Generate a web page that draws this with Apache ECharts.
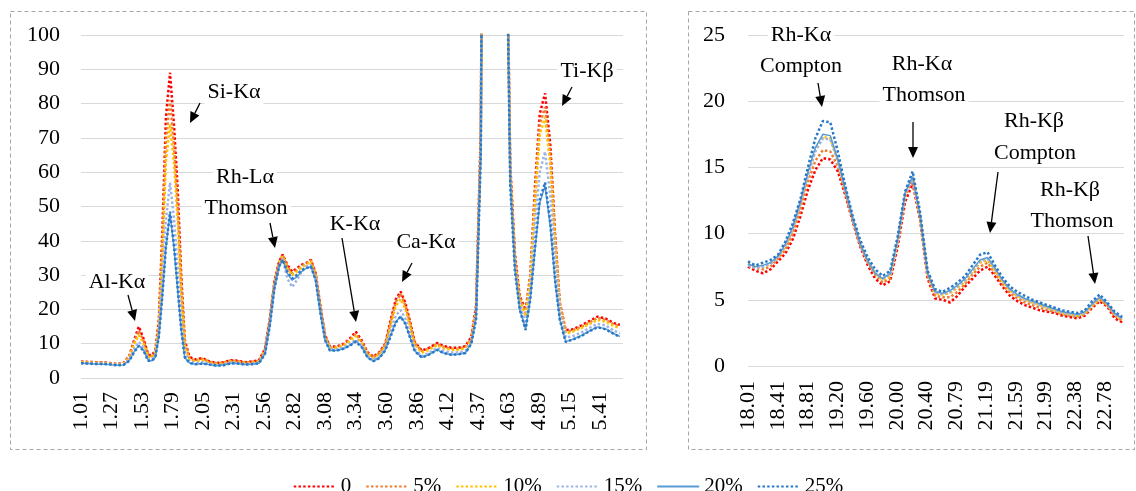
<!DOCTYPE html>
<html>
<head>
<meta charset="utf-8">
<script src="https://cdn.jsdelivr.net/npm/echarts@6/dist/echarts.min.js"></script>
<style>
  html, body { margin: 0; padding: 0; background: #fff; }
  #chart { width: 1136px; height: 491px; }
</style>
</head>
<body>
<div id="chart"></div>
<script>
// energy (keV) of the sampled points, left panel
const leftKeV = [
  1.01, 1.07, 1.13, 1.19, 1.25, 1.31, 1.37, 1.42, 1.46, 1.50,
  1.54, 1.58, 1.61, 1.64, 1.67, 1.70, 1.73, 1.765, 1.80, 1.83,
  1.86, 1.89, 1.93, 1.98, 2.04, 2.10, 2.16, 2.22, 2.28, 2.34,
  2.40, 2.46, 2.52, 2.57, 2.61, 2.65, 2.69, 2.72, 2.76, 2.80,
  2.84, 2.88, 2.92, 2.96, 3.00, 3.04, 3.08, 3.12, 3.18, 3.24,
  3.29, 3.34, 3.39, 3.44, 3.49, 3.54, 3.59, 3.64, 3.68, 3.72,
  3.76, 3.80, 3.84, 3.90, 3.96, 4.03, 4.09, 4.15, 4.21, 4.27,
  4.32, 4.36, 4.40, 4.44, 4.50, 4.56, 4.61, 4.63, 4.65, 4.69,
  4.73, 4.78, 4.82, 4.86, 4.90, 4.945, 4.99, 5.03, 5.07, 5.12,
  5.18, 5.25, 5.32, 5.39, 5.46, 5.53, 5.58
];
const leftTicks = ['1.01', '1.27', '1.53', '1.79', '2.05', '2.31', '2.56', '2.82', '3.08',
  '3.34', '3.60', '3.86', '4.12', '4.37', '4.63', '4.89', '5.15', '5.41'];

const left0 = [
  4.8, 4.7, 4.6, 4.6, 4.4, 4.1, 4.3, 6.5, 11.0, 15.0,
  11.5, 6.8, 6.6, 8, 17, 43, 76, 89, 73, 55,
  30, 11, 6.2, 5.4, 5.8, 4.8, 4.4, 4.6, 5.2, 5.0,
  4.6, 4.8, 5.2, 8.5, 17, 28, 34, 36, 33, 31,
  32, 33, 33.5, 34.5, 30.5, 21, 12.5, 9.2, 9.2, 10.0,
  11.5, 13.5, 11.0, 7.5, 6.2, 7.5, 10.0, 17.5, 23.0, 25.2,
  22, 16.5, 10.5, 8.0, 8.8, 10.2, 9.3, 8.8, 8.8, 9.3,
  12, 21, 72, 300, 600, 450, 165, 110, 62, 36,
  24, 19.8, 30, 56, 77, 83, 68, 42, 22, 14,
  14.2, 15.3, 16.6, 17.9, 17.3, 16.0, 15.5
];
const left5 = [
  4.7, 4.6, 4.5, 4.5, 4.3, 4.0, 4.2, 6.3, 10.5, 13.8,
  10.9, 6.5, 6.3, 7.5, 15.5, 39, 69, 81, 67, 50,
  27.5, 10.2, 5.7, 5.1, 5.6, 4.7, 4.3, 4.5, 5.1, 4.9,
  4.5, 4.7, 5.1, 8.3, 16.7, 27.8, 33.8, 35.8, 32.5, 30.5,
  31.5, 32.6, 33.3, 34.3, 30.2, 20.6, 12.3, 9.0, 9.0, 9.8,
  11.2, 12.8, 10.6, 7.3, 6.0, 7.3, 9.7, 16.8, 22.2, 24.5,
  21.3, 16, 10.2, 7.8, 8.5, 9.9, 9.0, 8.5, 8.5, 9.0,
  11.6, 20.2, 70, 298, 598, 448, 164, 109, 61, 35,
  23.5, 19, 29.3, 53.5, 74, 79, 65, 40.5, 21.5, 13.5,
  13.9, 14.9, 16.2, 17.5, 16.9, 15.6, 15.1
];
const left10 = [
  4.6, 4.5, 4.4, 4.4, 4.2, 3.9, 4.1, 6.0, 9.8, 12.5,
  10.2, 6.2, 6.0, 7.2, 14.5, 36, 63, 74, 62, 46,
  25, 9.5, 5.4, 4.9, 5.3, 4.5, 4.1, 4.3, 4.9, 4.7,
  4.4, 4.5, 4.9, 8.0, 16.3, 27.5, 33.5, 35.5, 32, 30,
  31, 32.2, 33, 34, 29.8, 20.2, 12, 8.8, 8.8, 9.5,
  10.8, 12.2, 10.2, 7.0, 5.8, 7.0, 9.3, 16, 21, 23.0,
  20.2, 15.2, 9.7, 7.4, 8.2, 9.6, 8.6, 8.2, 8.2, 8.7,
  11.2, 19.5, 69, 296, 595, 446, 163, 108, 60, 34,
  22.8, 18, 28.5, 51, 71, 76, 62, 39, 21, 13,
  13.5, 14.5, 15.7, 16.9, 16.4, 15.1, 14.6
];
const left15 = [
  4.4, 4.3, 4.2, 4.2, 4.1, 3.8, 3.9, 5.4, 8.4, 10.5,
  8.8, 5.5, 5.5, 6.5, 13, 29, 46, 57, 46, 32,
  17, 7.2, 4.8, 4.3, 4.6, 4.1, 3.8, 4.0, 4.6, 4.4,
  4.1, 4.2, 4.5, 7.4, 15.5, 26.5, 32.5, 34.8, 29, 26.5,
  28.5, 31, 32.5, 33, 29, 19.5, 11.5, 8.4, 8.3, 9.0,
  9.9, 11.2, 9.5, 6.4, 5.2, 6.3, 8.6, 14, 18.2, 19.8,
  17.4, 13, 8.4, 6.4, 7.3, 8.8, 7.8, 7.4, 7.5, 7.9,
  10.6, 18, 67, 294, 590, 444, 161, 106, 58, 32.5,
  21.5, 15.8, 26, 45, 60, 66, 53, 34, 19.5, 11.8,
  12.2, 13.2, 14.6, 15.8, 15.3, 13.8, 13.1
];
const left20 = [
  4.3, 4.2, 4.1, 4.0, 3.9, 3.7, 3.8, 5.1, 7.6, 9.5,
  8.1, 5.1, 5.0, 6, 12, 24, 38, 48, 37.5, 25.5,
  14, 6, 4.4, 4.0, 4.2, 3.9, 3.6, 3.8, 4.3, 4.2,
  3.9, 4.0, 4.3, 7.2, 15.5, 26.5, 32.5, 34.5, 30.5, 28.5,
  29.5, 31, 32, 32.5, 28.5, 19, 11, 8, 8.0, 8.6,
  9.5, 10.8, 9.1, 6.0, 4.9, 5.9, 8.1, 12.8, 16.4, 18.0,
  15.9, 11.9, 7.9, 6.0, 6.8, 8.2, 7.2, 6.8, 6.9, 7.3,
  10.2, 17.5, 66, 292, 585, 442, 160, 105, 57, 31.5,
  20, 14.2, 23, 37.5, 51, 56, 44, 28, 17, 10.6,
  11.3, 12.3, 13.7, 14.9, 14.3, 12.9, 12.1
];
const left25 = [
  4.3, 4.2, 4.1, 4.1, 4.0, 3.7, 3.8, 5.0, 7.5, 9.3,
  8.0, 5.0, 5.0, 6, 12, 24, 38, 48.5, 38, 26,
  14, 6, 4.4, 4.0, 4.2, 3.9, 3.6, 3.7, 4.3, 4.2,
  3.9, 4.0, 4.3, 7.0, 15, 26, 32.5, 34.5, 31, 29,
  30, 31.5, 32, 32.5, 28.5, 19, 11, 8, 8.0, 8.6,
  9.4, 10.6, 9.0, 6.0, 4.9, 5.8, 8.0, 12.5, 16.2, 17.9,
  15.8, 11.8, 7.8, 6.0, 6.8, 8.2, 7.2, 6.8, 6.9, 7.3,
  10, 17, 65, 290, 580, 440, 158, 104, 56, 31,
  20, 14, 23, 38, 52, 57, 45, 28.6, 17, 10.5,
  11.2, 12.2, 13.6, 14.8, 14.2, 12.8, 12.0
];

// energy (keV) of the sampled points, right panel
const rightKeV = [
  18.01, 18.11, 18.21, 18.31, 18.41, 18.51, 18.61, 18.71, 18.81, 18.91,
  19.01, 19.11, 19.21, 19.31, 19.41, 19.51, 19.61, 19.71, 19.81, 19.91,
  20.01, 20.11, 20.21, 20.31, 20.41, 20.51, 20.61, 20.71, 20.81, 20.91,
  21.01, 21.11, 21.21, 21.31, 21.41, 21.51, 21.61, 21.71, 21.81, 21.91,
  22.01, 22.11, 22.21, 22.31, 22.41, 22.51, 22.61, 22.71, 22.81, 22.91,
  23.01
];
const rightTicks = ['18.01', '18.41', '18.81', '19.20', '19.60', '20.00', '20.40',
  '20.79', '21.19', '21.59', '21.99', '22.38', '22.78'];

const right0 = [
  7.5, 7.2, 7.0, 7.3, 7.9, 8.5, 9.6, 11.3, 13.3, 14.8,
  15.7, 15.6, 14.7, 12.9, 10.9, 9.0, 7.6, 6.6, 6.1, 6.4,
  9.0, 12.4, 13.8, 11.0, 6.6, 5.1, 5.0, 4.8, 5.3, 6.0,
  6.6, 7.2, 7.5, 6.8, 6.0, 5.3, 4.9, 4.6, 4.4, 4.2,
  4.1, 4.0, 3.8, 3.7, 3.6, 3.8, 4.4, 4.9, 4.5, 3.6,
  3.3
];
const right5 = [
  7.6, 7.4, 7.3, 7.5, 8.1, 8.8, 10.0, 11.8, 13.9, 15.5,
  16.3, 16.2, 15.1, 13.1, 11.0, 9.1, 7.8, 6.9, 6.3, 6.6,
  9.3, 12.8, 14.1, 11.2, 6.8, 5.3, 5.2, 5.2, 5.6, 6.2,
  6.9, 7.5, 7.8, 7.0, 6.2, 5.5, 5.1, 4.8, 4.6, 4.4,
  4.2, 4.1, 3.9, 3.8, 3.7, 3.9, 4.5, 5.0, 4.6, 3.8,
  3.4
];
const right10 = [
  7.7, 7.5, 7.5, 7.7, 8.2, 9.0, 10.3, 12.2, 14.4, 16.3,
  17.3, 17.2, 15.6, 13.3, 11.1, 9.2, 7.9, 7.0, 6.5, 6.8,
  9.5, 13.0, 14.3, 11.3, 6.9, 5.5, 5.4, 5.5, 5.9, 6.4,
  7.1, 7.8, 8.0, 7.2, 6.4, 5.7, 5.3, 5.0, 4.8, 4.6,
  4.4, 4.2, 4.0, 3.9, 3.8, 4.0, 4.6, 5.1, 4.6, 3.9,
  3.5
];
const right15 = [
  7.6, 7.4, 7.5, 7.7, 8.2, 9.1, 10.4, 12.3, 14.4, 16.2,
  17.2, 17.1, 15.5, 13.3, 11.1, 9.2, 7.9, 7.0, 6.6, 6.9,
  9.5, 13.0, 14.2, 11.3, 7.0, 5.6, 5.4, 5.6, 6.0, 6.5,
  7.2, 7.9, 8.1, 7.3, 6.5, 5.8, 5.3, 5.0, 4.8, 4.6,
  4.4, 4.2, 4.0, 3.9, 3.8, 4.0, 4.7, 5.2, 4.7, 3.9,
  3.6
];
const right20 = [
  7.7, 7.5, 7.6, 7.8, 8.3, 9.2, 10.5, 12.4, 14.6, 16.5,
  17.5, 17.4, 15.6, 13.3, 11.1, 9.2, 7.9, 7.0, 6.6, 7.0,
  9.6, 13.1, 14.3, 11.3, 7.0, 5.6, 5.5, 5.7, 6.1, 6.6,
  7.3, 8.0, 8.2, 7.4, 6.5, 5.8, 5.4, 5.1, 4.9, 4.7,
  4.5, 4.3, 4.1, 4.0, 3.9, 4.1, 4.7, 5.2, 4.7, 4.0,
  3.6
];
const right25 = [
  7.9, 7.6, 7.8, 8.0, 8.4, 9.4, 10.8, 12.6, 15.0, 17.2,
  18.5, 18.4, 16.2, 13.6, 11.3, 9.5, 8.2, 7.3, 6.8, 7.2,
  9.8, 13.2, 14.7, 11.6, 7.2, 5.8, 5.6, 5.9, 6.3, 6.8,
  7.6, 8.4, 8.6, 7.6, 6.7, 6.0, 5.6, 5.3, 5.0, 4.8,
  4.6, 4.4, 4.2, 4.1, 4.0, 4.2, 4.9, 5.4, 4.8, 4.1,
  3.7
];

const seriesNames = ['0', '5%', '10%', '15%', '20%', '25%'];
const leftSets = [left0, left5, left10, left15, left20, left25];
const rightSets = [right0, right5, right10, right15, right20, right25];

const LEFT_START = 1.01, LEFT_STEP = 0.2588;
const RIGHT_START = 18.01, RIGHT_STEP = 0.3975;
const FONT = '"Liberation Serif", "Times New Roman", serif';

const lineStyles = [
  { color: '#FF0000', width: 2.5, type: [2.5, 2.2] },
  { color: '#ED7D31', width: 2.5, type: [2.5, 2.2] },
  { color: '#FFC000', width: 2.5, type: [2.5, 2.2] },
  { color: '#9FB4E6', width: 2.5, type: [2.5, 2.2] },
  { color: '#5B9BD5', width: 1.5, type: 'solid' },
  { color: '#2878C8', width: 2.5, type: [2.5, 2.2] }
];

function tickLabel(ticks, v, step) {
  const i = Math.round(v / step);
  if (Math.abs(v - i * step) > step * 0.05 || ticks[i] === undefined) return '';
  return ticks[i];
}

function arrow(x1, y1, x2, y2) {
  const dx = x2 - x1, dy = y2 - y1, len = Math.hypot(dx, dy);
  const ux = dx / len, uy = dy / len;
  const bx = x2 - ux * 11, by = y2 - uy * 11;
  return [
    { type: 'line', z: 20, shape: { x1: x1, y1: y1, x2: bx, y2: by }, style: { stroke: '#000', lineWidth: 1.3 } },
    { type: 'polygon', z: 20, shape: { points: [[x2, y2], [bx - uy * 5, by + ux * 5], [bx + uy * 5, by - ux * 5]] }, style: { fill: '#000' } }
  ];
}

// annotation text sits on a white box, like the text boxes in the source chart
function label(text, x, y) {
  return {
    type: 'text', z: 20,
    style: {
      text: text, x: x, y: y, font: '22px ' + FONT, fill: '#000',
      textAlign: 'center', textVerticalAlign: 'middle',
      backgroundColor: '#fff', padding: [1, 3]
    }
  };
}

const series = [];
seriesNames.forEach((name, i) => {
  series.push({
    name: name, type: 'line', xAxisIndex: 0, yAxisIndex: 0, symbol: 'none',
    lineStyle: lineStyles[i], itemStyle: { color: lineStyles[i].color },
    data: leftKeV.map((k, j) => [k - LEFT_START, leftSets[i][j]])
  });
});
seriesNames.forEach((name, i) => {
  series.push({
    name: name, type: 'line', xAxisIndex: 1, yAxisIndex: 1, symbol: 'none',
    lineStyle: lineStyles[i], itemStyle: { color: lineStyles[i].color },
    data: rightKeV.map((k, j) => [k - RIGHT_START, rightSets[i][j]])
  });
});

const axisText = { fontFamily: FONT, fontSize: 22, color: '#000' };

const option = {
  animation: false,
  backgroundColor: '#fff',
  grid: [
    { left: 81, top: 35, width: 542, height: 343 },
    { left: 748, top: 35, width: 376, height: 331 }
  ],
  xAxis: [
    {
      gridIndex: 0, type: 'value', min: 0, max: 4.596, interval: LEFT_STEP,
      axisLine: { show: false }, axisTick: { show: false }, splitLine: { show: false },
      axisLabel: Object.assign({ rotate: 90, margin: 14, formatter: v => tickLabel(leftTicks, v, LEFT_STEP) }, axisText)
    },
    {
      gridIndex: 1, type: 'value', min: 0, max: 5.024, interval: RIGHT_STEP,
      axisLine: { show: false }, axisTick: { show: false }, splitLine: { show: false },
      axisLabel: Object.assign({ rotate: 90, margin: 15, formatter: v => tickLabel(rightTicks, v, RIGHT_STEP) }, axisText)
    }
  ],
  yAxis: [
    {
      gridIndex: 0, type: 'value', min: 0, max: 100, interval: 10,
      axisLine: { show: false }, axisTick: { show: false },
      axisLabel: Object.assign({ margin: 21 }, axisText),
      splitLine: { lineStyle: { color: '#d9d9d9', width: 1 } }
    },
    {
      gridIndex: 1, type: 'value', min: 0, max: 25, interval: 5,
      axisLine: { show: false }, axisTick: { show: false },
      axisLabel: Object.assign({ margin: 23 }, axisText),
      splitLine: { lineStyle: { color: '#d9d9d9', width: 1 } }
    }
  ],
  legend: {
    data: seriesNames, left: 'center', top: 476, padding: 0,
    itemWidth: 42, itemHeight: 14, itemGap: 14,
    itemStyle: { opacity: 0 },
    textStyle: { fontFamily: FONT, fontSize: 21, color: '#000' }
  },
  graphic: [
    { type: 'rect', shape: { x: 10.5, y: 11.5, width: 636, height: 438 }, style: { fill: 'none', stroke: '#a6a6a6', lineWidth: 1, lineDash: [4, 3] } },
    { type: 'rect', shape: { x: 688.5, y: 11.5, width: 446, height: 438 }, style: { fill: 'none', stroke: '#a6a6a6', lineWidth: 1, lineDash: [4, 3] } },
    label('Si-Kα', 234, 92),
    label('Al-Kα', 117, 282),
    label('Rh-Lα', 245, 177),
    label('Thomson', 246, 208),
    label('K-Kα', 355, 224),
    label('Ca-Kα', 426, 242),
    label('Ti-Kβ', 587, 71),
    label('Rh-Kα', 801, 35),
    label('Compton', 801, 66),
    label('Rh-Kα', 922, 64),
    label('Thomson', 924, 95),
    label('Rh-Kβ', 1034, 121),
    label('Compton', 1035, 153),
    label('Rh-Kβ', 1070, 190),
    label('Thomson', 1072, 221)
  ].concat(
    arrow(200, 103, 190, 123),
    arrow(128, 295, 135, 321),
    arrow(270, 223, 275, 248),
    arrow(342, 238, 356, 322),
    arrow(412, 263, 402, 282),
    arrow(572, 87, 562, 106),
    arrow(818, 83, 822, 107),
    arrow(913, 122, 913, 158),
    arrow(998, 172, 990, 233),
    arrow(1088, 236, 1095, 284)
  ),
  series: series
};

const chart = echarts.init(document.getElementById('chart'));
chart.setOption(option);
</script>
</body>
</html>
